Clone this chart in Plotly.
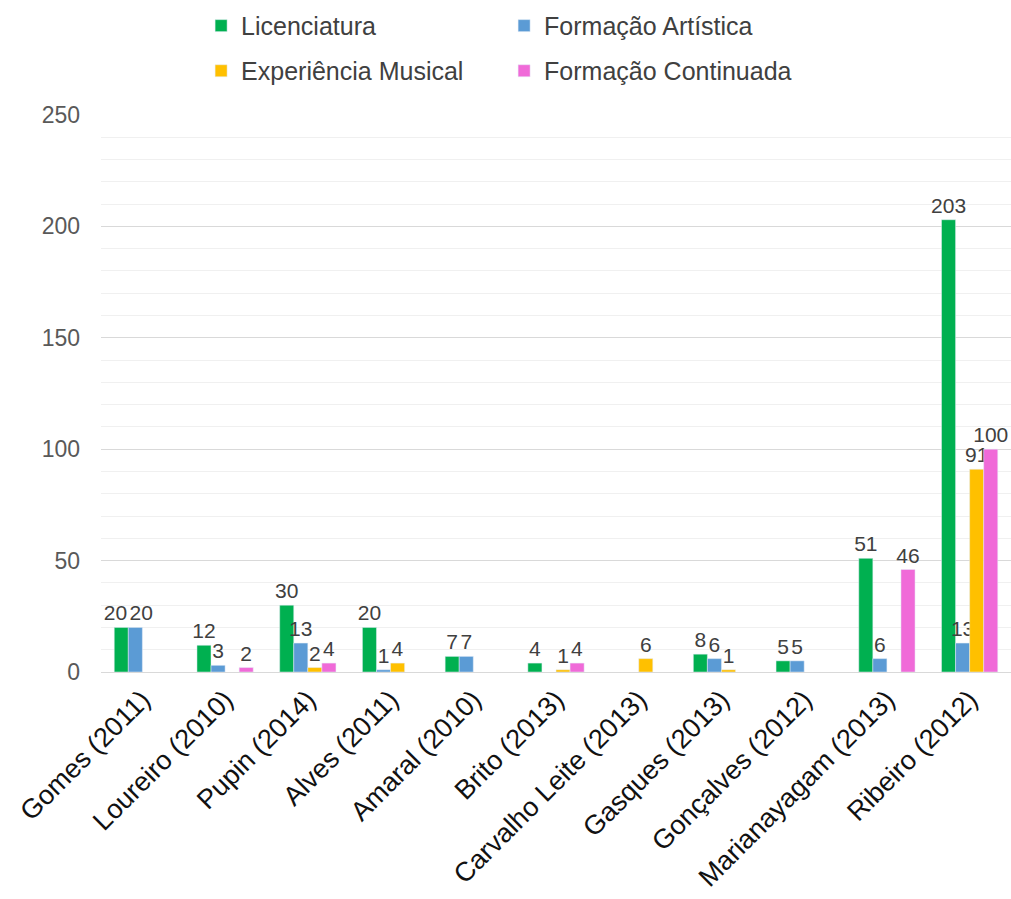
import plotly.graph_objects as go

categories = ["Gomes (2011)", "Loureiro (2010)", "Pupin (2014)", "Alves (2011)", "Amaral (2010)",
              "Brito (2013)", "Carvalho Leite (2013)", "Gasques (2013)", "Gonçalves (2012)",
              "Marianayagam (2013)", "Ribeiro (2012)"]
licenciatura = [20, 12, 30, 20, 7, 4, None, 8, 5, 51, 203]
formacao_artistica = [20, 3, 13, 1, 7, None, None, 6, 5, 6, 13]
experiencia_musical = [None, None, 2, 4, None, 1, 6, 1, None, None, 91]
formacao_continuada = [None, 2, 4, None, None, 4, None, None, None, 46, 100]

series = [
    ("Licenciatura", licenciatura, "#00B050", "legend"),
    ("Formação Artística", formacao_artistica, "#5B9BD5", "legend"),
    ("Experiência Musical", experiencia_musical, "#FFC000", "legend2"),
    ("Formação Continuada", formacao_continuada, "#F06AD8", "legend2"),
]

PAD = "\u00a0\u00a0"


def labels(idx):
    """Value labels; two-digit labels of similar height in neighbouring bars are nudged apart."""
    vals = series[idx][1]
    out = []
    for i, v in enumerate(vals):
        if v is None:
            out.append("")
            continue
        s = str(v)
        prev_v = series[idx - 1][1][i] if idx > 0 else None
        next_v = series[idx + 1][1][i] if idx < len(series) - 1 else None
        if next_v is not None and v >= 10 and next_v >= 10 and abs(v - next_v) < 5:
            s = s + PAD
        if prev_v is not None and v >= 10 and prev_v >= 10 and abs(v - prev_v) < 5:
            s = PAD + s
        out.append(s)
    return out


fig = go.Figure()
for k, (name, vals, color, leg) in enumerate(series):
    fig.add_trace(go.Bar(
        x=categories, y=vals, name=name, marker_color=color, legend=leg,
        text=labels(k),
        textposition="outside", constraintext="none", cliponaxis=False,
        textfont=dict(size=21, color="#404040"),
    ))

legend_common = dict(orientation="h", xanchor="left", yanchor="middle",
                     entrywidth=258, font=dict(size=25, color="#404040"),
                     traceorder="normal", bgcolor="rgba(0,0,0,0)")

fig.update_layout(
    width=1011, height=899,
    margin=dict(l=101, r=0, t=115, b=227),
    paper_bgcolor="white", plot_bgcolor="white",
    font=dict(family="Liberation Sans, Arial, sans-serif", color="#404040"),
    barmode="group", bargap=0.32, bargroupgap=0,
    legend=dict(x=0.110, y=1.160, **legend_common),
    legend2=dict(x=0.110, y=1.079, **legend_common),
    xaxis=dict(tickangle=-45, tickfont=dict(size=27, color="#111111"), automargin=False,
               showline=True, linecolor="#d9d9d9", linewidth=1, ticks=""),
    yaxis=dict(range=[0, 250], dtick=50, tickfont=dict(size=23, color="#595959"),
               showgrid=True, gridcolor="#d9d9d9", gridwidth=1, zeroline=False,
               ticklabelstandoff=20, automargin=False,
               minor=dict(dtick=10, showgrid=True, gridcolor="#f0f0f0", gridwidth=1)),
)

fig.write_html("out.html")
